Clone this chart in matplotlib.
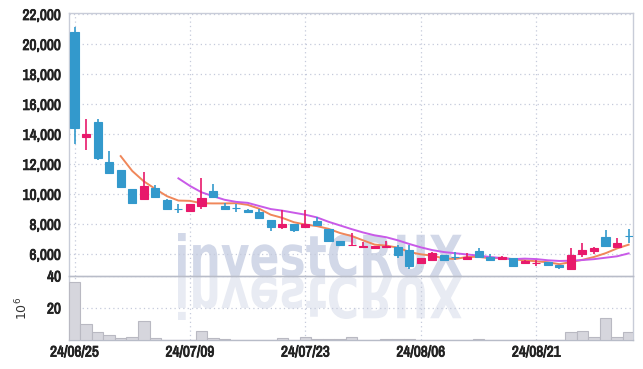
import numpy as np
import pandas as pd
import matplotlib
matplotlib.use("Agg")
import matplotlib.pyplot as plt
import matplotlib.patheffects as pe
from matplotlib import font_manager
from matplotlib.textpath import TextPath
from matplotlib.patches import PathPatch
from matplotlib.font_manager import FontProperties
from matplotlib.transforms import Affine2D, IdentityTransform

# trading days
dates = ["24/06/25", "24/06/26", "24/06/27", "24/06/28", "24/07/01", "24/07/02", "24/07/03",
         "24/07/04", "24/07/05", "24/07/08", "24/07/09", "24/07/10", "24/07/11", "24/07/12",
         "24/07/15", "24/07/16", "24/07/17", "24/07/18", "24/07/19", "24/07/22", "24/07/23",
         "24/07/24", "24/07/25", "24/07/26", "24/07/29", "24/07/30", "24/07/31", "24/08/01",
         "24/08/02", "24/08/05", "24/08/06", "24/08/07", "24/08/08", "24/08/09", "24/08/12",
         "24/08/13", "24/08/14", "24/08/16", "24/08/19", "24/08/20", "24/08/21", "24/08/22",
         "24/08/23", "24/08/26", "24/08/27", "24/08/28", "24/08/29", "24/08/30", "24/09/02"]

opens = [20800, 13850, 14800, 12150, 11600, 10350, 9700, 10450, 9650, 9030,
         8900, 9250, 10200, 9200, 9110, 8950, 8800, 8300, 7800, 8000,
         7800, 8200, 7700, 6900, 6600, 6500, 6450, 6500, 6500, 6300,
         5450, 5600, 5950, 5810, 5700, 6200, 5850, 5700, 5750, 5400,
         5400, 5500, 5300, 5050, 6050, 6250, 7150, 6500, 7220]
highs = [21150, 15000, 15050, 12900, 11650, 10350, 11500, 10600, 9700, 9330,
         9350, 11100, 10700, 9400, 9330, 9000, 9050, 8300, 8950, 8000,
         8950, 8500, 7700, 6900, 7450, 6850, 6550, 6900, 6650, 6600,
         5750, 6150, 5950, 6130, 6100, 6450, 6000, 5900, 5750, 5650,
         5600, 5500, 5300, 6400, 6750, 6500, 7650, 7100, 7720]
lows = [13350, 12950, 12300, 11400, 10450, 9400, 9650, 9800, 9000, 8730,
        8900, 9050, 9750, 9050, 8840, 8750, 8450, 7550, 7700, 7500,
        7750, 7950, 6900, 6550, 6600, 6500, 6350, 6500, 5750, 5050,
        5450, 5600, 5600, 5600, 5700, 5800, 5550, 5650, 5250, 5350,
        5200, 5250, 5000, 5000, 5800, 6050, 6550, 6450, 6750]
closes = [14400, 14000, 12400, 11450, 10500, 9450, 10550, 9850, 9050, 9020,
          9350, 9750, 9800, 9050, 9100, 8800, 8450, 7800, 8000, 7650,
          8000, 7950, 6900, 6600, 6650, 6550, 6530, 6550, 5950, 5200,
          5750, 6100, 5600, 5800, 5850, 5800, 5600, 5800, 5250, 5550,
          5450, 5300, 5150, 5950, 6300, 6400, 6550, 6750, 7200]
# volume in millions
volumes = [36.3, 10.1, 5.0, 3.1, 1.1, 1.9, 11.8, 1.1, 0.3, 0.3,
           0.3, 5.4, 1.1, 0.6, 0.3, 0.2, 0.2, 0.2, 1.2, 0.3,
           1.9, 0.6, 0.6, 0.6, 1.9, 0.2, 0.2, 0.6, 0.6, 0.6,
           0.2, 0.2, 0.2, 0.2, 0.2, 0.6, 0.2, 0.2, 0.2, 0.2,
           0.2, 0.2, 0.2, 5.0, 5.6, 1.8, 13.7, 1.8, 5.0]

tick_idx = [0, 10, 20, 30, 40]

UP = "#e8196b"
DOWN = "#3399cc"
GRID = "#c5cadb"

# pick a narrow font if one is installed
narrow = None
for f in font_manager.fontManager.ttflist:
    if "Narrow" in f.name or "Condensed" in f.name:
        narrow = f.name
        break
if narrow:
    TICKFONT = {"family": [narrow, "DejaVu Sans"], "weight": "bold", "size": 11}
else:
    TICKFONT = {"family": ["DejaVu Sans"], "weight": "bold", "size": 9, "stretch": "condensed"}
bold_fx = [pe.withStroke(linewidth=0.6, foreground="#222222")]

df = pd.DataFrame({"open": opens, "high": highs, "low": lows, "close": closes, "vol": volumes})
df["ma5"] = df["close"].rolling(5).mean()
df["ma10"] = df["close"].rolling(10).mean()
x = np.arange(len(df))

fig = plt.figure(figsize=(6.43, 3.69), dpi=100)
ax = fig.add_axes([0.1078, 0.252, 0.877, 0.7128])
axv = fig.add_axes([0.1078, 0.0786, 0.877, 0.1734], sharex=ax)
for a in (ax, axv):
    a.set_facecolor("none")

# watermark with reflection, behind the axes
prop = FontProperties(family="DejaVu Sans", weight="bold")
tp = TextPath((0, 0), "investCRUX", prop=prop)
ext = tp.get_extents()
x0, x1 = 178, 462
base = 369 - 276
cap = 43
sx = (x1 - x0) / ext.width
sy = cap / (ext.y1)
t_main = Affine2D().translate(-ext.x0, 0).scale(sx, sy).translate(x0, base)
t_refl = Affine2D().translate(-ext.x0, 0).scale(sx, -sy).translate(x0, base - 1)
fig.patches.append(PathPatch(t_main.transform_path(tp), facecolor="#d2d8e8", edgecolor="none",
                             transform=IdentityTransform(), zorder=-5))
fig.patches.append(PathPatch(t_refl.transform_path(tp), facecolor="#e8ebf3", edgecolor="none",
                             transform=IdentityTransform(), zorder=-5))

# moving averages
ax.plot(x, df["ma5"], color="#f0875a", lw=1.4, zorder=2)
ax.plot(x, df["ma10"], color="#c95ae8", lw=1.4, zorder=2)

# candles
colors = [UP if c > o else DOWN for o, c in zip(df["open"], df["close"])]
ax.vlines(x, df["low"], df["high"], colors=colors, lw=1.2, zorder=3)
bottoms = np.minimum(df["open"], df["close"])
heights = np.abs(df["close"] - df["open"])
ax.bar(x, heights, bottom=bottoms, width=0.7, color=colors, edgecolor=colors, lw=0.8, zorder=4)

# volume
axv.bar(x, df["vol"], width=1.0, color="#d6d6dd", edgecolor="#b9b9c2", lw=0.8, zorder=3)

ax.set_xlim(-0.45, 48.4)
ax.set_ylim(4550, 22100)
ax.set_yticks(range(6000, 22001, 2000))
ax.set_yticklabels([f"{v:,}" for v in range(6000, 22001, 2000)], **TICKFONT)
axv.set_ylim(0, 40)
axv.set_yticks([20, 40])
axv.set_yticklabels(["20", "40"], **TICKFONT)
axv.set_xticks(tick_idx)
axv.set_xticklabels([dates[i] for i in tick_idx], **TICKFONT)
axv.set_ylabel(r"$10^6$", fontsize=9, color="#333333", labelpad=12)
ax.tick_params(axis="x", labelbottom=False, length=0)

for a in (ax, axv):
    a.grid(True, color=GRID, linestyle=(0, (1, 2.5)), lw=0.9)
    a.set_axisbelow(True)
    a.tick_params(axis="y", length=0, pad=6, colors="#222222")
    for s in a.spines.values():
        s.set_color("#c8ccd8")
        s.set_linewidth(1.0)
    for lab in a.get_yticklabels() + a.get_xticklabels():
        lab.set_path_effects(bold_fx)
axv.tick_params(axis="x", length=0, pad=4, colors="#222222")
axv.spines["top"].set_color("#b8bcc8")
axv.spines["bottom"].set_color("#b8bcc8")

fig.savefig("out.png", dpi=100, facecolor="white")
